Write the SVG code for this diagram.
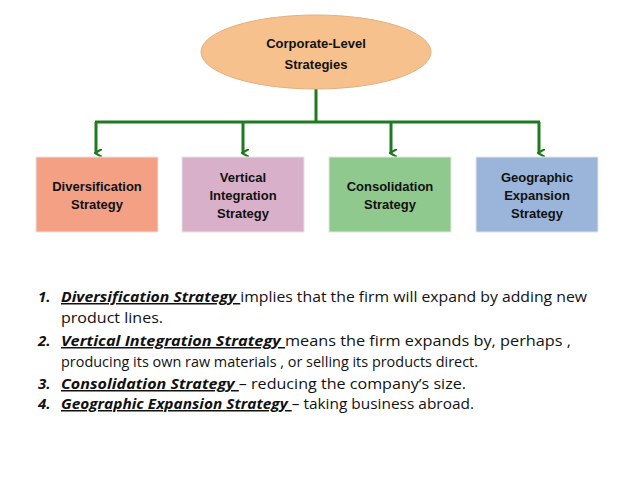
<svg xmlns="http://www.w3.org/2000/svg" width="638" height="479" viewBox="0 0 638 479">
<style>
.n{font-family:"Liberation Sans",Arial,sans-serif;font-weight:bold;font-size:13px;fill:#111;text-anchor:middle}
.b{stroke:#e6e6e6;stroke-width:1}
.c{stroke:#1e7a1e;stroke-width:3;fill:none}
.t{font-family:"Open Sans","Noto Sans",sans-serif;font-size:15px;fill:#111}
.k{font-weight:bold;font-style:italic;text-decoration:underline}
</style>
<defs><marker id="a" markerWidth="8" markerHeight="8" refX="4" refY="6" orient="auto" markerUnits="userSpaceOnUse" viewBox="0 0 8 8"><path d="M0,0 L4,7 L8,0" fill="none" stroke="#1e7a1e" stroke-width="2.2"/></marker></defs>
<rect width="638" height="479" fill="#fff"/>
<g id="connectors">
<path class="c" d="M316,89 V122 M95,122 H540"/>
<path class="c" d="M96,122 V153" marker-end="url(#a)"/>
<path class="c" d="M243,122 V153" marker-end="url(#a)"/>
<path class="c" d="M391,122 V153" marker-end="url(#a)"/>
<path class="c" d="M539,122 V153" marker-end="url(#a)"/>
</g>
<g id="root"><ellipse cx="316" cy="52" rx="115" ry="37" fill="#f7c18d" stroke="#e2b080"/>
<text class="n" x="316" y="48" font-size="16">Corporate-Level</text><text class="n" x="316" y="69" font-size="16">Strategies</text></g>
<g id="diversification"><rect class="b" x="36" y="157" width="122" height="75" fill="#f4a085"/>
<text class="n" x="97" y="191">Diversification</text><text class="n" x="97" y="209">Strategy</text></g>
<g id="vertical"><rect class="b" x="182" y="157" width="122" height="75" fill="#d8b0c9"/>
<text class="n" x="243" y="182">Vertical</text><text class="n" x="243" y="200">Integration</text><text class="n" x="243" y="218">Strategy</text></g>
<g id="consolidation"><rect class="b" x="329" y="157" width="122" height="75" fill="#90c98e"/>
<text class="n" x="390" y="191">Consolidation</text><text class="n" x="390" y="209">Strategy</text></g>
<g id="geographic"><rect class="b" x="476" y="157" width="122" height="75" fill="#9ab4da"/>
<text class="n" x="537" y="182">Geographic</text><text class="n" x="537" y="200">Expansion</text><text class="n" x="537" y="218">Strategy</text></g>
<g id="notes" class="t">
<text x="38" y="302" font-weight="bold" font-style="italic">1.</text>
<text x="61" y="302" textLength="526" lengthAdjust="spacingAndGlyphs"><tspan class="k">Diversification Strategy </tspan>implies that the firm will expand by adding new</text>
<text x="61" y="323" textLength="102" lengthAdjust="spacingAndGlyphs">product lines.</text>
<text x="38" y="346" font-weight="bold" font-style="italic">2.</text>
<text x="61" y="346" textLength="510" lengthAdjust="spacingAndGlyphs"><tspan class="k">Vertical Integration Strategy </tspan>means the firm expands by, perhaps ,</text>
<text x="61" y="367" textLength="417" lengthAdjust="spacingAndGlyphs">producing its own raw materials , or selling its products direct.</text>
<text x="38" y="389" font-weight="bold" font-style="italic">3.</text>
<text x="61" y="389" textLength="405" lengthAdjust="spacingAndGlyphs"><tspan class="k">Consolidation Strategy </tspan>– reducing the company’s size.</text>
<text x="38" y="409" font-weight="bold" font-style="italic">4.</text>
<text x="61" y="409" textLength="413" lengthAdjust="spacingAndGlyphs"><tspan class="k">Geographic Expansion Strategy </tspan>– taking business abroad.</text>
</g>
</svg>
